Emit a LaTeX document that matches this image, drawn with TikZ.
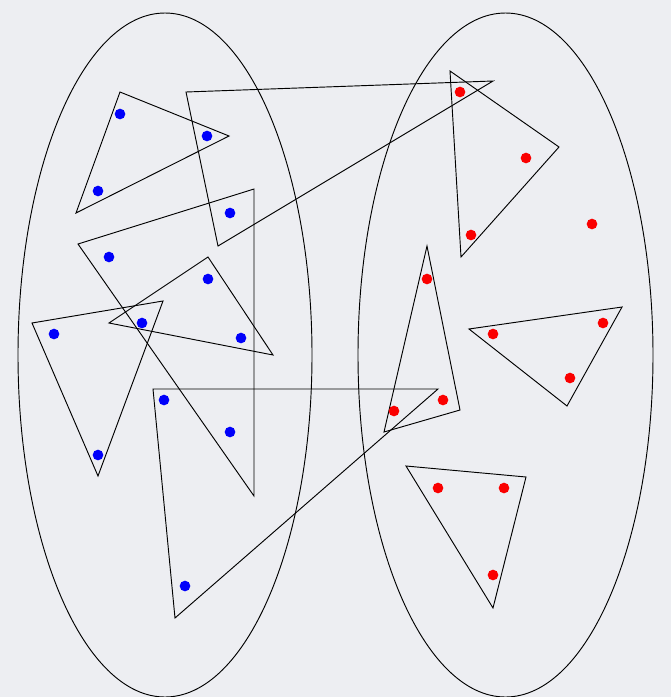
\documentclass[tikz,border=0pt]{standalone}
\definecolor{bg}{RGB}{237,238,242}
\definecolor{bdot}{RGB}{0,0,250}
\definecolor{rdot}{RGB}{250,0,0}
\begin{document}
\begin{tikzpicture}[x=0.75pt,y=-0.75pt,
  outline/.style={draw=black,line width=0.7pt},
  tri/.style={draw=black,line width=0.7pt,line join=miter},
  bluedot/.style={circle,fill=bdot,inner sep=0pt,minimum size=8pt},
  reddot/.style={circle,fill=rdot,inner sep=0pt,minimum size=8pt}]
\fill[bg] (0,0) rectangle (671,697);
\useasboundingbox (0,0) rectangle (671,697);
% sets
\draw[outline] (165,355) ellipse [x radius=147, y radius=342];
\draw[outline] (505.5,355) ellipse [x radius=147.5, y radius=342];
% triangles
\draw[tri] (120,92) -- (229,136) -- (76,213) -- cycle;
\draw[tri] (186,92) -- (493,81) -- (218,246) -- cycle;
\draw[tri] (78,244) -- (254,189) -- (254,496) -- cycle;
\draw[tri] (208,257) -- (273,355) -- (109,323) -- cycle;
\draw[tri] (32,323) -- (163,301) -- (98,476) -- cycle;
\draw[tri] (153,389) -- (438,389) -- (175,618) -- cycle;
\draw[tri] (450,71) -- (559,147) -- (461,257) -- cycle;
\draw[tri] (427,246) -- (460,410) -- (384,432) -- cycle;
\draw[tri] (469,329) -- (622,307) -- (567,406) -- cycle;
\draw[tri] (406,466) -- (526,477) -- (493,608) -- cycle;
% blue points
\node[bluedot] (b1) at (120,114) {};
\node[bluedot] (b2) at (207,136) {};
\node[bluedot] (b3) at (98,191) {};
\node[bluedot] (b4) at (230,213) {};
\node[bluedot] (b5) at (109,257) {};
\node[bluedot] (b6) at (208,279) {};
\node[bluedot] (b7) at (142,323) {};
\node[bluedot] (b8) at (54,334) {};
\node[bluedot] (b9) at (241,338) {};
\node[bluedot] (b10) at (164,400) {};
\node[bluedot] (b11) at (230,432) {};
\node[bluedot] (b12) at (98,455) {};
\node[bluedot] (b13) at (185,586) {};
% red points
\node[reddot] (r1) at (460,92) {};
\node[reddot] (r2) at (526,158) {};
\node[reddot] (r3) at (471,235) {};
\node[reddot] (r4) at (592,224) {};
\node[reddot] (r5) at (427,279) {};
\node[reddot] (r6) at (493,334) {};
\node[reddot] (r7) at (603,323) {};
\node[reddot] (r8) at (570,378) {};
\node[reddot] (r9) at (394,411) {};
\node[reddot] (r10) at (443,400) {};
\node[reddot] (r11) at (438,488) {};
\node[reddot] (r12) at (504,488) {};
\node[reddot] (r13) at (493,575) {};
\end{tikzpicture}
\end{document}
